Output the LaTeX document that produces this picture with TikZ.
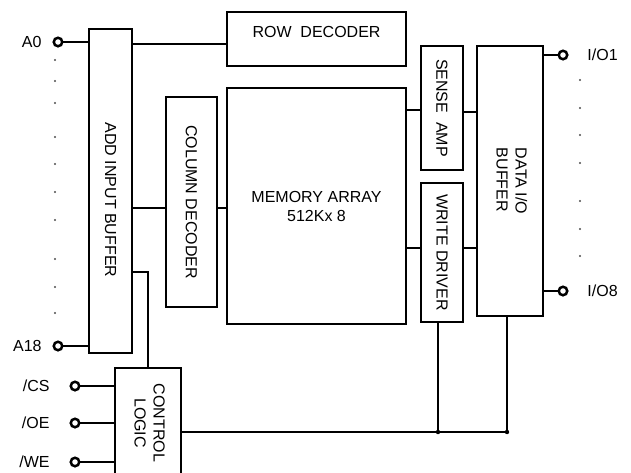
\documentclass[tikz,border=0pt]{standalone}
\usepackage{fontspec}
\setmainfont{Liberation Sans}
\begin{document}
\begin{tikzpicture}[x=1pt,y=-1pt,
    block/.style={draw,line width=2.5pt,inner sep=0pt,outer sep=0pt,align=center,
      font=\fontsize{16}{19}\selectfont},
    pin/.style={circle,draw,line width=2.5pt,minimum size=8.5pt,inner sep=0pt,outer sep=0pt},
    wire/.style={line width=1.5pt},
    every label/.style={inner sep=0pt,font=\fontsize{16}{19}\selectfont}
]
\useasboundingbox (0,0) rectangle (631,472);

    % blocks
    \node[block,minimum width=43,minimum height=324] (addbuf) at (110.5,191)
      {\rotatebox{-90}{\hspace*{18pt}ADD INPUT BUFFER}};
    \node[block,minimum width=179,minimum height=54,text depth=14pt] (rowdec) at (316.5,39)
      {ROW~~DECODER};
    \node[block,minimum width=51,minimum height=210] (coldec) at (191.5,202)
      {\rotatebox{-90}{COLUMN DECODER}};
    \node[block,minimum width=179,minimum height=236] (mem) at (316.5,206)
      {MEMORY ARRAY\\512Kx 8};
    \node[block,minimum width=42,minimum height=124] (sense) at (442,108)
      {\rotatebox{-90}{SENSE~~AMP}};
    \node[block,minimum width=42,minimum height=139] (write) at (442,252.5)
      {\rotatebox{-90}{WRITE DRIVER}};
    \node[block,minimum width=66,minimum height=270] (data) at (510,181)
      {\rotatebox{-90}{\begin{tabular}{@{}l@{}}DATA I/O\\BUFFER\end{tabular}}};
    \node[block,minimum width=66,minimum height=110] (ctrl) at (148,423)
      {\rotatebox{-90}{\begin{tabular}{@{}c@{}}CONTROL\\LOGIC\end{tabular}}};

    % pins
    \node[pin,label={[label distance=12pt]left:A0}] (a0) at (58,42) {};
    \node[pin,label={[label distance=12pt]left:A18}] (a18) at (58,346) {};
    \node[pin,label={[label distance=21pt]left:/CS}] (cs) at (75,386) {};
    \node[pin,label={[label distance=21pt]left:/OE}] (oe) at (75,423) {};
    \node[pin,label={[label distance=21pt]left:/WE}] (we) at (75,462) {};
    \node[pin,label={[label distance=20pt]right:I/O1}] (io1) at (563,55) {};
    \node[pin,label={[label distance=20pt]right:I/O8}] (io8) at (563,291) {};

    \foreach \y in {60,81,103,137,164,192,220,259,287,313}
      \fill[black!70] (55,\y) circle (1.2pt);
    \foreach \y in {80,108,135,163,201,229,256}
      \fill[black!70] (580,\y) circle (1.2pt);

    % wires
    \draw[wire] (a0) -- (a0 -| addbuf.west);
    \draw[wire] (a18) -- (a18 -| addbuf.west);
    \draw[wire] (addbuf.east |- 0,44) -- (rowdec.west |- 0,44);
    \draw[wire] (addbuf.east |- 0,208) -- (coldec.west |- 0,208);
    \draw[wire] (coldec.east |- 0,208) -- (mem.west |- 0,208);
    \draw[wire] (mem.east |- 0,110) -- (sense.west |- 0,110);
    \draw[wire] (sense.east |- 0,112) -- (data.west |- 0,112);
    \draw[wire] (mem.east |- 0,248) -- (write.west |- 0,248);
    \draw[wire] (write.east |- 0,248) -- (data.west |- 0,248);
    \draw[wire] (io1) -- (io1 -| data.east);
    \draw[wire] (io8) -- (io8 -| data.east);
    \draw[wire] (addbuf.east |- 0,272) -| (ctrl.north);
    \foreach \p in {cs,oe,we}
      \draw[wire] (\p) -- (\p -| ctrl.west);

    \coordinate (j1) at (438,432);
    \coordinate (j2) at (507,432);
    \draw[wire] (ctrl.east |- j1) -- (j2);
    \draw[wire] (j1 |- write.south) -- (j1);
    \draw[wire] (j2 |- data.south) -- (j2);
    \fill (j1) circle (2.2pt);
    \fill (j2) circle (2.2pt);

\end{tikzpicture}
\end{document}
